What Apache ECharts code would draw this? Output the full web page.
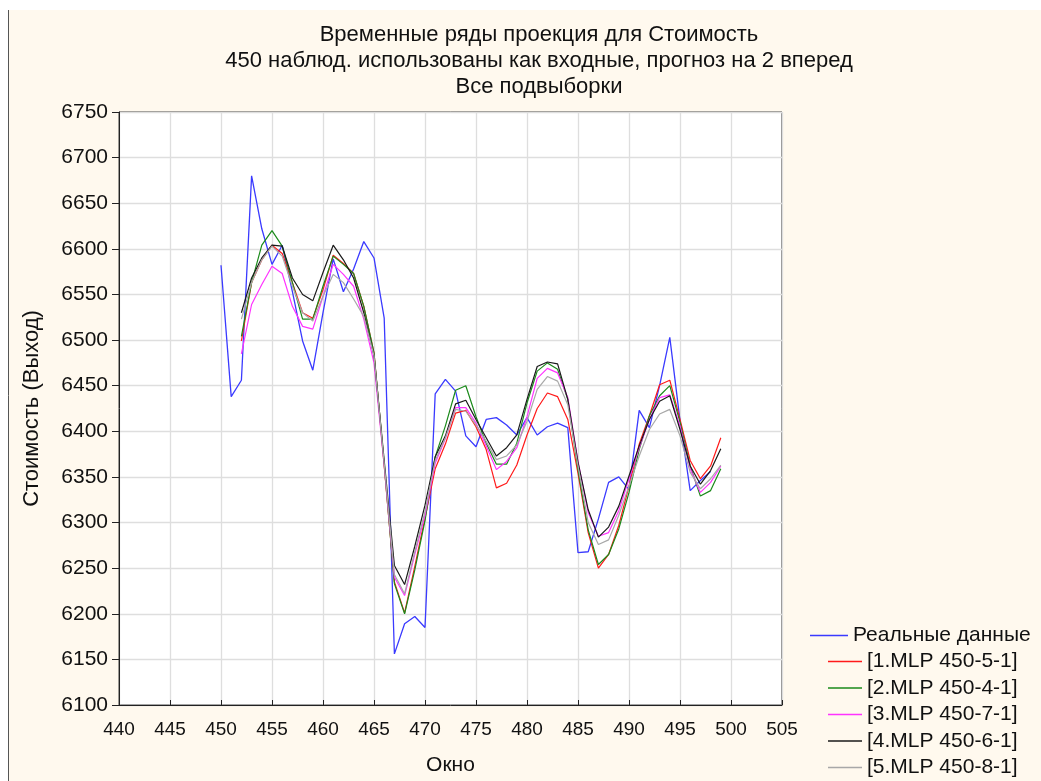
<!DOCTYPE html>
<html>
<head>
<meta charset="utf-8">
<script src="https://cdn.jsdelivr.net/npm/echarts@6/dist/echarts.min.js"></script>
<style>
html, body { margin: 0; padding: 0; background: #fff; }
#view { width: 1041px; height: 781px; }
</style>
</head>
<body>
<div id="view"></div>
<script>
// окна (ось X)
var realStart = 450;
var modelStart = 452;

// Реальные данные, окна 450..498
var realData = [6582, 6438, 6456, 6680, 6622, 6583, 6604, 6553, 6499, 6467,
    6530, 6589, 6553, 6578, 6608, 6590, 6524, 6156, 6189, 6197,
    6185, 6441, 6457, 6444, 6395, 6383, 6413, 6415, 6407, 6396,
    6415, 6396, 6405, 6409, 6404, 6267, 6268, 6304, 6344, 6350,
    6336, 6423, 6404, 6450, 6503, 6412, 6335, 6346, 6356];

// прогнозы моделей, окна 452..499
var mlp1 = [6499, 6563, 6588, 6604, 6595, 6563, 6530, 6524, 6555, 6593,
    6584, 6573, 6537, 6486, 6362, 6235, 6201, 6252, 6305, 6359,
    6386, 6420, 6423, 6405, 6380, 6338, 6343, 6363, 6396, 6425,
    6442, 6438, 6413, 6354, 6289, 6250, 6265, 6297, 6340, 6386,
    6417, 6451, 6456, 6413, 6368, 6348, 6362, 6393];
var mlp2 = [6504, 6563, 6604, 6620, 6603, 6563, 6523, 6523, 6559, 6592,
    6583, 6573, 6537, 6486, 6364, 6233, 6200, 6248, 6302, 6372,
    6406, 6445, 6450, 6416, 6387, 6364, 6364, 6387, 6431, 6466,
    6475, 6468, 6435, 6358, 6292, 6254, 6265, 6293, 6333, 6380,
    6417, 6439, 6450, 6410, 6362, 6329, 6335, 6359];
var mlp3 = [6485, 6539, 6561, 6581, 6573, 6537, 6515, 6512, 6548, 6583,
    6572, 6559, 6523, 6475, 6363, 6240, 6220, 6265, 6308, 6365,
    6392, 6426, 6426, 6409, 6384, 6358, 6367, 6382, 6416, 6458,
    6469, 6464, 6437, 6367, 6311, 6285, 6289, 6313, 6348, 6382,
    6413, 6437, 6440, 6406, 6359, 6333, 6344, 6362];
var mlp4 = [6530, 6568, 6590, 6604, 6603, 6568, 6550, 6543, 6574, 6604,
    6588, 6568, 6530, 6483, 6368, 6253, 6232, 6274, 6319, 6372,
    6395, 6430, 6434, 6413, 6393, 6373, 6382, 6396, 6435, 6471,
    6476, 6474, 6435, 6366, 6314, 6284, 6295, 6318, 6351, 6384,
    6413, 6433, 6439, 6402, 6362, 6342, 6357, 6381];
var mlp5 = [6523, 6563, 6588, 6603, 6592, 6559, 6530, 6521, 6548, 6572,
    6563, 6545, 6526, 6483, 6365, 6243, 6222, 6268, 6312, 6368,
    6393, 6424, 6422, 6407, 6389, 6369, 6373, 6385, 6411, 6446,
    6460, 6455, 6429, 6362, 6300, 6276, 6281, 6308, 6340, 6373,
    6402, 6419, 6424, 6395, 6355, 6337, 6348, 6363];

var modelNames = ['[1.MLP 450-5-1]', '[2.MLP 450-4-1]', '[3.MLP 450-7-1]',
    '[4.MLP 450-6-1]', '[5.MLP 450-8-1]'];
var modelColors = ['#ff1a1a', '#1a8a1a', '#ff33ff', '#1a1a1a', '#a8a8a8'];
var modelData = [mlp1, mlp2, mlp3, mlp4, mlp5];

function pairs(start, arr) {
    return arr.map(function (v, i) { return [start + i, v]; });
}

var font = "'Liberation Sans', Arial, sans-serif";

var series = [{
    name: 'Реальные данные',
    type: 'line',
    data: pairs(realStart, realData),
    symbol: 'none',
    lineStyle: { color: '#3a3aff', width: 1.3 },
    itemStyle: { color: '#3a3aff' },
    z: 2
}];
modelData.forEach(function (d, i) {
    series.push({
        name: modelNames[i],
        type: 'line',
        data: pairs(modelStart, d),
        symbol: 'none',
        lineStyle: { color: modelColors[i], width: 1.2 },
        itemStyle: { color: modelColors[i] },
        z: 3
    });
});

var myChart = echarts.init(document.getElementById('view'));
var option = {
    backgroundColor: '#ffffff',
    animation: false,
    graphic: [
        { type: 'rect', shape: { x: 8, y: 10, width: 1040, height: 780 },
          style: { fill: '#fff9ee' }, z: -10, silent: true },
        { type: 'line', shape: { x1: 8.5, y1: 10, x2: 8.5, y2: 781 },
          style: { stroke: '#555', lineWidth: 1 }, z: -9, silent: true }
    ],
    title: {
        text: 'Временные ряды проекция для Стоимость\n450 наблюд. использованы как входные, прогноз на 2 вперед\nВсе подвыборки',
        left: 534,
        top: 17,
        textAlign: 'center',
        textStyle: {
            fontFamily: font, fontSize: 22, fontWeight: 'normal',
            color: '#111', lineHeight: 26
        }
    },
    legend: [{
        data: ['Реальные данные'],
        left: 810,
        top: 625,
        padding: 0,
        icon: 'rect',
        itemWidth: 38,
        itemHeight: 1.5,
        textStyle: { fontFamily: font, fontSize: 21, color: '#111' }
    }, {
        data: modelNames,
        orient: 'vertical',
        left: 828,
        top: 651,
        padding: 0,
        icon: 'rect',
        itemWidth: 34,
        itemHeight: 1.5,
        itemGap: 5.5,
        textStyle: { fontFamily: font, fontSize: 21, color: '#111' }
    }],
    grid: {
        left: 119,
        right: 259,
        top: 112,
        bottom: 74,
        show: true,
        backgroundColor: '#ffffff',
        borderColor: '#222',
        borderWidth: 1
    },
    xAxis: {
        type: 'value',
        min: 440,
        max: 505,
        interval: 5,
        name: 'Окно',
        nameLocation: 'middle',
        nameGap: 50,
        nameTextStyle: { fontFamily: font, fontSize: 21, color: '#111' },
        axisLine: { lineStyle: { color: '#222' } },
        axisTick: { inside: true, length: 5, lineStyle: { color: '#222' } },
        axisLabel: { margin: 15, fontFamily: font, fontSize: 19, color: '#111' },
        splitLine: { show: true, lineStyle: { color: '#dedede', width: 1.3 } }
    },
    yAxis: {
        type: 'value',
        min: 6100,
        max: 6750,
        interval: 50,
        name: 'Стоимость (Выход)',
        nameLocation: 'middle',
        nameGap: 76,
        nameTextStyle: { fontFamily: font, fontSize: 22, color: '#111' },
        axisLine: { show: true, lineStyle: { color: '#222' } },
        axisTick: { show: true, length: 7, lineStyle: { color: '#222' } },
        axisLabel: {
            margin: 11, fontFamily: font, fontSize: 21, color: '#111',
            formatter: function (v) { return String(v); }
        },
        splitLine: { show: true, lineStyle: { color: '#dedede', width: 1.3 } }
    },
    series: series
};
myChart.setOption(option);
</script>
</body>
</html>
